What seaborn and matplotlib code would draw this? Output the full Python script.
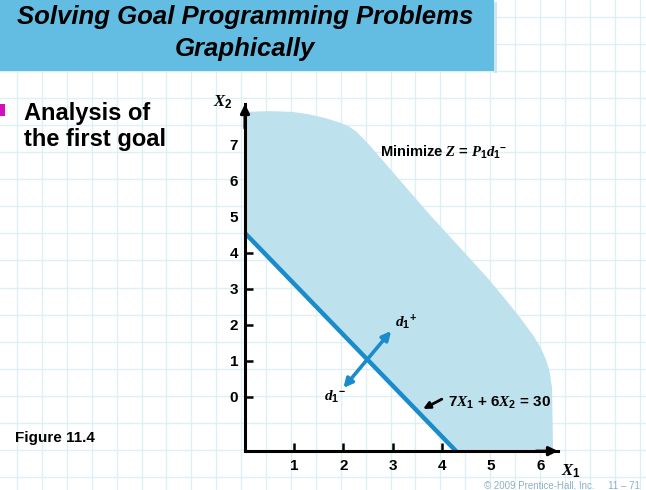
import numpy as np
import pandas as pd
import matplotlib
matplotlib.use("Agg")
import matplotlib.pyplot as plt
import seaborn as sns

# ---------------- data ----------------
x_ticks = [1, 2, 3, 4, 5, 6]
y_ticks = [0, 1, 2, 3, 4, 5, 6, 7]

# goal line 7X1 + 6X2 = 30, as drawn in the figure
goal_x = [0.0, 4.29]
goal_y = [4.54, -1.5]

# shaded region (feasible area beyond the goal line)
region_x = [0.0, 0.51, 0.96, 1.30, 1.62, 1.93, 2.10, 2.25, 2.50, 2.85, 3.30,
            3.76, 4.15, 4.50, 4.90, 5.30, 5.62, 5.85, 6.00, 6.10, 6.17, 6.22,
            6.24, 4.29, 0.0]
region_y = [7.87, 7.89, 7.87, 7.80, 7.70, 7.57, 7.47, 7.33, 6.98, 6.43, 5.72,
            5.00, 4.42, 3.90, 3.30, 2.65, 2.10, 1.67, 1.33, 1.02, 0.70, 0.25,
            -1.5, -1.5, 4.54]

# deviation arrow d1- / d1+
dev_x = [2.00, 2.97]
dev_y = [0.25, 1.83]

# ---------------- style ----------------
sns.set_theme(style="white")
plt.rcParams["font.family"] = ["Liberation Sans", "DejaVu Sans"]
plt.rcParams["text.color"] = "black"
plt.rcParams["xtick.color"] = "black"
plt.rcParams["ytick.color"] = "black"
plt.rcParams["xtick.labelcolor"] = "black"
plt.rcParams["ytick.labelcolor"] = "black"
plt.rcParams["axes.labelcolor"] = "black"
plt.rcParams["mathtext.fontset"] = "custom"
plt.rcParams["mathtext.rm"] = "Liberation Sans:bold"
plt.rcParams["mathtext.it"] = "Liberation Serif:italic:bold"
plt.rcParams["mathtext.bf"] = "Liberation Sans:bold"

W, H = 646, 490
fig = plt.figure(figsize=(W / 100, H / 100), dpi=100)
fig.patch.set_facecolor("white")

# background (graph paper + title bar) in pixel coordinates
bg = fig.add_axes([0, 0, 1, 1], zorder=0)
bg.set_xlim(0, W)
bg.set_ylim(H, 0)
bg.axis("off")
grid_c = "#def0f4"
for gx in np.arange(17, W, 24.9):
    bg.axvline(gx, color=grid_c, lw=1.0, zorder=0)
for gy in np.arange(98 - 27 * 3, H, 27.05):
    bg.axhline(gy, color=grid_c, lw=1.0, zorder=0)
bg.add_patch(plt.Rectangle((0, 0), 494, 71, color="#63bde2", zorder=2, lw=0))
bg.add_patch(plt.Rectangle((494, 2), 3, 71, color="#cbe6f0", zorder=1, lw=0))
title_kw = dict(ha="center", va="baseline", fontsize=18.5, fontweight="bold",
                fontstyle="italic", color="black", zorder=3)
bg.text(245, 24, "Solving Goal Programming Problems", **title_kw)
bg.text(245, 56, "Graphically", **title_kw)

bg.add_patch(plt.Rectangle((0, 104), 5, 12, color="#d10fbf", zorder=2, lw=0))
bg.text(24, 120, "Analysis of", fontsize=17, fontweight="bold", va="baseline",
        color="black", zorder=3)
bg.text(24, 146, "the first goal", fontsize=17, fontweight="bold", va="baseline",
        color="black", zorder=3)
bg.text(15, 442, "Figure 11.4", fontsize=11, fontweight="bold", va="baseline",
        color="black", zorder=3)
bg.text(640, 490, "\u00a9 2009 Prentice-Hall, Inc.     11 \u2013 71", fontsize=7,
        color="#8fb0c6", ha="right", va="bottom", zorder=3)

# ---------------- main chart ----------------
px0, px_unit = 245, 49.2
py0, py_unit = 397, 36.1
xmax = (558 - px0) / px_unit
ymin, ymax = -1.5, (py0 - 104) / py_unit
left = px0 / W
bottom = (H - (py0 - ymin * py_unit)) / H
width = (xmax * px_unit) / W
height = ((ymax - ymin) * py_unit) / H
ax = fig.add_axes([left, bottom, width, height], zorder=1)
ax.patch.set_alpha(0)
ax.set_xlim(0, xmax)
ax.set_ylim(ymin, ymax)

fill_c = "#bde1ed"
line_c = "#1a8ccc"
ax.fill(region_x, region_y, facecolor=fill_c, edgecolor=fill_c, lw=1.5,
        joinstyle="round", zorder=1)

df = pd.DataFrame({"x": goal_x, "y": goal_y})
sns.lineplot(data=df, x="x", y="y", ax=ax, color=line_c, lw=3.2, zorder=3,
             solid_capstyle="butt")

ax.annotate("", xy=(dev_x[1], dev_y[1]), xytext=(dev_x[0], dev_y[0]),
            arrowprops=dict(arrowstyle="<|-|>", color=line_c, lw=2.6,
                            mutation_scale=13, shrinkA=0, shrinkB=0), zorder=4)

for s in ["top", "right"]:
    ax.spines[s].set_visible(False)
for s in ["left", "bottom"]:
    ax.spines[s].set_color("black")
    ax.spines[s].set_linewidth(2.2)
    ax.spines[s].set_zorder(5)
ax.spines["bottom"].set_position(("data", ymin))

# axis arrowheads
ax.annotate("", xy=(1.0, 0), xytext=(0.93, 0), xycoords="axes fraction",
            arrowprops=dict(arrowstyle="-|>", color="black", lw=2.2,
                            mutation_scale=13, shrinkA=0, shrinkB=0),
            annotation_clip=False, zorder=6)
ax.annotate("", xy=(0, 1.0), xytext=(0, 0.93), xycoords="axes fraction",
            arrowprops=dict(arrowstyle="-|>", color="black", lw=2.2,
                            mutation_scale=13, shrinkA=0, shrinkB=0),
            annotation_clip=False, zorder=6)

ax.set_xticks(x_ticks)
ax.set_yticks(y_ticks)
ax.set_xticklabels([str(v) for v in x_ticks], fontsize=11, fontweight="bold",
                   color="black")
ax.set_yticklabels([str(v) for v in y_ticks], fontsize=11, fontweight="bold",
                   color="black")
ax.tick_params(axis="both", direction="in", length=6, width=1.8, color="black",
               left=True, bottom=True)
ax.tick_params(axis="x", pad=6)
ax.tick_params(axis="y", pad=5)
ax.set_xlabel("")
ax.set_ylabel("")

# labels
ax.text(6.63, -2.05, "$\\mathit{X}_1$", fontsize=12, ha="center", va="center",
        color="black", clip_on=False)
ax.text(-0.46, 8.15, "$\\mathit{X}_2$", fontsize=12, ha="center", va="center",
        color="black", clip_on=False)
ax.text(2.75, 6.78, "Minimize $\\mathit{Z}$ = $\\mathit{P}_1\\mathit{d}_1{}^{-}$",
        fontsize=10.5, fontweight="bold", ha="left", va="center", color="black")
ax.text(3.28, 2.05, "$\\mathit{d}_1{}^{+}$", fontsize=11, ha="center",
        va="center", color="black")
ax.text(1.83, 0.0, "$\\mathit{d}_1{}^{-}$", fontsize=11, ha="center",
        va="center", color="black")
ax.annotate("", xy=(3.62, -0.33), xytext=(4.0, -0.06),
            arrowprops=dict(arrowstyle="-|>", color="black", lw=2.0,
                            mutation_scale=10, shrinkA=0, shrinkB=0))
ax.text(4.12, -0.17, "7$\\mathit{X}_1$ + 6$\\mathit{X}_2$ = 30", fontsize=11,
        fontweight="bold", ha="left", va="center", color="black")

fig.savefig("out.png", dpi=100)
